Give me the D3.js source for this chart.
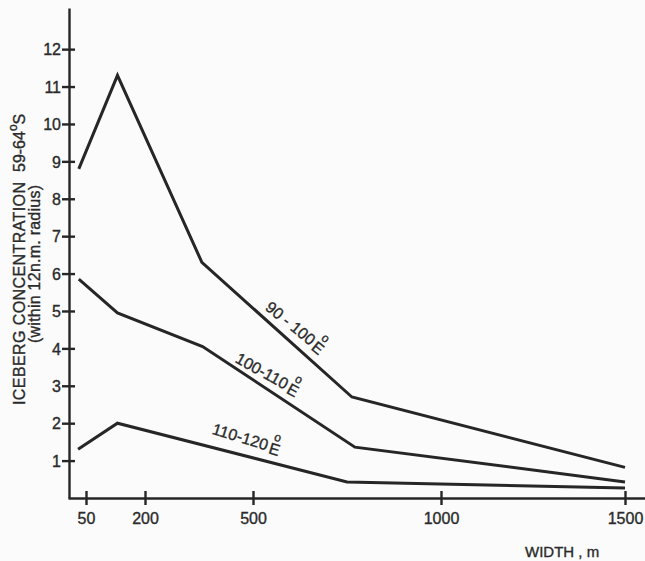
<!DOCTYPE html>
<html>
<head>
<meta charset="utf-8">
<script src="https://cdn.jsdelivr.net/npm/d3@7"></script>
<style>
  html, body { margin: 0; padding: 0; background: #fbfbfc; }
  svg { display: block; }
  text { font-family: "Liberation Sans", Arial, Helvetica, sans-serif; fill: #2a2a2a; stroke: #2a2a2a; stroke-width: 0.35px; }
</style>
</head>
<body>
<svg id="chart" width="645" height="561"></svg>
<script>
// ---- data ----
const xTicks = [50, 200, 500, 1000, 1500];
const yTicks = [1, 2, 3, 4, 5, 6, 7, 8, 9, 10, 11, 12];

const seriesNames = ["90 - 100", "100-110", "110-120"];
const widthsA = [30, 130, 358, 763, 1500];
const concA   = [8.8, 11.3, 6.3, 2.7, 0.82];
const widthsB = [30, 130, 360, 771, 1500];
const concB   = [5.85, 4.95, 4.05, 1.36, 0.43];
const widthsC = [28, 130, 750, 1500];
const concC   = [1.3, 2.0, 0.43, 0.27];

const svg = d3.select("#chart");
const ink = "#262626";

// hand-drawn axis: piecewise linear through the drawn tick positions
const x = d3.scaleLinear()
  .domain([0, 50, 200, 500, 1000, 1500, 1554])
  .range([68, 86, 145, 253, 441, 625, 645]);
const y = d3.scaleLinear().domain([0, 13.1]).range([498, 8]);

// axes
const xAxis = svg.append("g")
  .attr("transform", `translate(0,${y(0)})`)
  .call(d3.axisBottom(x).tickValues(xTicks).tickSizeInner(7).tickSizeOuter(0).tickFormat(d3.format("d")));
const yAxis = svg.append("g")
  .attr("transform", `translate(${x(0) + 1},0)`)
  .call(d3.axisLeft(y).tickValues(yTicks).tickSizeInner(7).tickSizeOuter(0).tickFormat(d3.format("d")));

[xAxis, yAxis].forEach(g => {
  g.select(".domain").attr("stroke", ink).attr("stroke-width", 2.4);
  g.selectAll(".tick line").attr("stroke", ink).attr("stroke-width", 2.4);
  g.selectAll(".tick text").attr("font-size", 16).attr("fill", "#2a2a2a")
    .attr("font-family", '"Liberation Sans", Arial, sans-serif');
});
xAxis.selectAll(".tick line").attr("y1", -7).attr("y2", 7);
xAxis.selectAll(".tick text").attr("y", 26).attr("dy", 0);
yAxis.selectAll(".tick line").attr("x1", -7).attr("x2", 6);
yAxis.selectAll(".tick text").attr("x", -8).attr("dy", "0.36em");

// lines
const line = d3.line().x(d => x(d[0])).y(d => y(d[1]));
const seriesData = [
  d3.zip(widthsA, concA),
  d3.zip(widthsB, concB),
  d3.zip(widthsC, concC)
];
svg.append("g").selectAll("path").data(seriesData).join("path")
  .attr("d", line)
  .attr("fill", "none")
  .attr("stroke", ink)
  .attr("stroke-width", 3)
  .attr("stroke-linejoin", "miter");

// series labels (placed along each line, position in data units)
const labelPos = [
  { name: seriesNames[0], at: [530, 5.05], angle: 39 },
  { name: seriesNames[1], at: [448, 3.64], angle: 29 },
  { name: seriesNames[2], at: [384, 1.72], angle: 17 }
];
labelPos.forEach(l => {
  const t = svg.append("text")
    .attr("transform", `translate(${x(l.at[0])},${y(l.at[1])}) rotate(${l.angle})`)
    .attr("font-size", 16);
  t.append("tspan").text(l.name);
  t.append("tspan").attr("dx", 4).attr("dy", -12).attr("font-size", 12).text("o");
  t.append("tspan").attr("dx", -8.5).attr("dy", 14).text("E");
});

// y-axis title
svg.append("text")
  .attr("transform", "translate(25,405) rotate(-90)")
  .attr("font-size", 16)
  .attr("textLength", 223)
  .attr("lengthAdjust", "spacing")
  .text("ICEBERG CONCENTRATION");
const yt = svg.append("text")
  .attr("transform", "translate(25,172) rotate(-90)")
  .attr("font-size", 16);
yt.append("tspan").text("59-64");
yt.append("tspan").attr("dy", -8).attr("font-size", 12).text("o");
yt.append("tspan").attr("dy", 8).text("S");

svg.append("text")
  .attr("transform", "translate(40,343) rotate(-90)")
  .attr("font-size", 16)
  .attr("textLength", 158)
  .attr("lengthAdjust", "spacing")
  .text("(within 12n.m. radius)");

// x-axis title
svg.append("text")
  .attr("x", 525).attr("y", 557)
  .attr("font-size", 15)
  .text("WIDTH , m");
</script>
</body>
</html>
